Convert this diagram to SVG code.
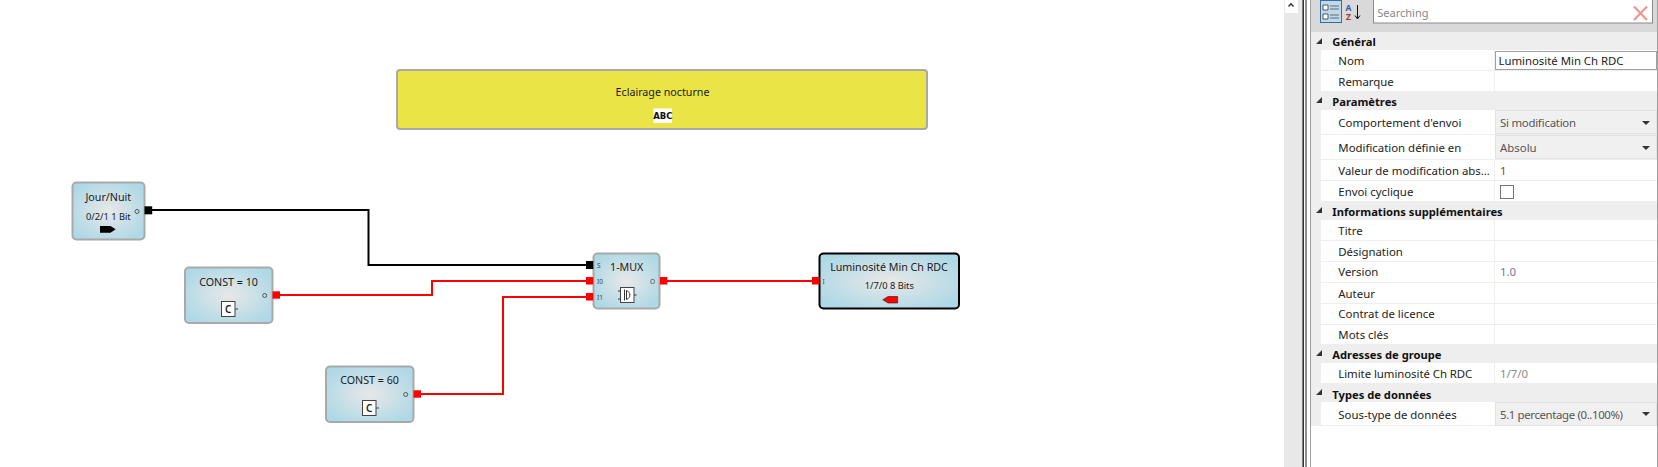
<svg xmlns="http://www.w3.org/2000/svg" width="1658" height="467" viewBox="0 0 1658 467">
<style>
text{font-family:"Noto Sans","Open Sans","Liberation Sans",sans-serif;fill:#1a1a1a}
.nb{fill:url(#nodeFill);stroke:#a9a9a9;stroke-width:2}
.sel{stroke:#000}
.t{font-size:10.7px;text-anchor:middle}
.s{font-size:9.3px;text-anchor:middle}
.p{font-size:6.5px;fill:#444}
.ci{fill:none;stroke:#555;stroke-width:1}
.ib{fill:#fff;stroke:#444;stroke-width:1}
.bl{fill:none;stroke:#000;stroke-width:2}
.rd{fill:none;stroke:#f00;stroke-width:2}
.pb{fill:#000}.pr{fill:#f00}
.l{font-size:11.4px;fill:#222}
.v{font-size:11.4px;fill:#222}
.g{font-size:11.4px;fill:#8a8a8a}
.d{font-size:11.4px;fill:#555}
.vb{font-size:11.4px;fill:#6d7a95}
.h{font-size:11.2px;font-weight:700;fill:#111}
.hr{fill:#eeeeee}
.r{fill:#fff}
.dd{fill:#f0f0f0;stroke:#e2e2e2}
.tri{fill:#333}
</style>
<defs>
<radialGradient id="nodeFill" cx="50%" cy="50%" r="60%"><stop offset="0" stop-color="#e8e8e8"/><stop offset="1" stop-color="#add8e6"/></radialGradient>
</defs>
<rect width="1658" height="467" fill="#fff"/>

<g id="connectors">
<path class="bl" d="M152 210H368.500V265H586"/>
<path class="rd" d="M280 295H432V281H586"/>
<path class="rd" d="M421 394H503V297H586"/>
<path class="rd" d="M667 281H812"/>
</g>

<g id="note">
<rect x="397" y="70" width="530" height="59" rx="3" fill="#eae446" stroke="#a9a9a9" stroke-width="2"/>
<text class="t" x="662.500" y="96">Eclairage nocturne</text>
<rect x="653.500" y="108.500" width="18.500" height="14.500" fill="#fff"/>
<text x="662.800" y="119" font-size="8.500" font-weight="700" text-anchor="middle" style="font-family:'DejaVu Sans',sans-serif;fill:#111">ABC</text>
</g>

<g id="jour-nuit">
<rect class="nb" x="72.500" y="182.500" width="72" height="57" rx="4"/>
<text class="t" x="108.300" y="201">Jour/Nuit</text>
<text class="s" x="108.300" y="219.500">0/2/1 1 Bit</text>
<circle class="ci" cx="137" cy="211.500" r="2"/>
<rect class="pb" x="144.500" y="206.300" width="7.700" height="8"/>
<path fill="#000" d="M100 226H110.500L115.700 229.300L110.500 232.700H100Z"/>
</g>

<g id="const-10">
<rect class="nb" x="185" y="267.500" width="87.500" height="55.500" rx="4"/>
<text class="t" x="228.500" y="286.200">CONST = 10</text>
<circle class="ci" cx="264.700" cy="295.500" r="2"/>
<rect class="pr" x="272.500" y="291.300" width="7.500" height="7.400"/>
<rect class="ib" x="221.500" y="301.500" width="13.500" height="15"/>
<path stroke="#444" d="M235 309H238"/>
<text x="228.200" y="313" font-size="10" text-anchor="middle" style="font-weight:600">C</text>
</g>

<g id="const-60">
<rect class="nb" x="326" y="366.500" width="87.500" height="55.500" rx="4"/>
<text class="t" x="369.500" y="384.300">CONST = 60</text>
<circle class="ci" cx="405.700" cy="394.500" r="2"/>
<rect class="pr" x="413.500" y="390.300" width="7.500" height="7.400"/>
<rect class="ib" x="362.500" y="400.500" width="13.500" height="15"/>
<path stroke="#444" d="M376 408H379"/>
<text x="369.200" y="412" font-size="10" text-anchor="middle" style="font-weight:600">C</text>
</g>

<g id="mux">
<rect class="nb" x="593.500" y="253.500" width="66" height="55" rx="4"/>
<text class="t" x="626.700" y="271">1-MUX</text>
<text class="p" x="597" y="267.500">S</text>
<text class="p" x="597" y="283.500">I0</text>
<text class="p" x="597" y="299.500">I1</text>
<text class="p" x="650" y="283.500">O</text>
<rect class="pb" x="586" y="261" width="7.300" height="8"/>
<rect class="pr" x="586" y="277" width="7.300" height="7.500"/>
<rect class="pr" x="586" y="293" width="7.300" height="7.500"/>
<rect class="pr" x="660" y="277" width="7.300" height="7.500"/>
<rect class="ib" x="620.500" y="287.500" width="13.500" height="15"/>
<path fill="none" stroke="#333" d="M618 291H620.500M618 299H620.500M634 295H636.500M624.500 289.500V300.500M626.500 290.500C631 292 631 298 626.500 299.500Z"/>
</g>

<g id="luminosite">
<rect class="nb sel" x="819.500" y="253.500" width="139.500" height="55" rx="4"/>
<text class="t" x="889" y="271">Luminosité Min Ch RDC</text>
<text class="s" x="889.300" y="289">1/7/0 8 Bits</text>
<text class="p" x="822.500" y="283.500">I</text>
<rect class="pr" x="812" y="277" width="7.500" height="7.500"/>
<path fill="#f00" stroke="#222" stroke-width=".6" d="M897.700 296.500H888L882.800 299.800L888 303H897.700Z"/>
</g>

<g id="scrollbar">
<rect x="1284" y="0" width="18" height="467" fill="#e8e8e8"/>
<rect x="1285" y="0" width="13" height="13" fill="#fff"/>
<path fill="none" stroke="#333" stroke-width="1.500" d="M1288.500 6.500L1291 3.800L1293.500 6.500"/>
<rect x="1302.500" y="0" width="1.300" height="467" fill="#000"/>
<rect x="1305" y="0" width="2" height="467" fill="#8f8f8f"/>
<rect x="1310" y="0" width="1" height="467" fill="#a0a0a0"/>
<rect x="1657" y="0" width="1" height="467" fill="#a0a0a0"/>
</g>

<g id="toolbar">
<rect x="1311" y="0" width="346" height="32" fill="#d9d9d9"/>
<rect x="1320.500" y="0.500" width="21" height="22" fill="#bcd9ee" stroke="#3f6d90"/>
<path fill="#fff" stroke="#333" stroke-width=".8" d="M1323 5h5v5h-5zM1323 14h5v5h-5z"/>
<path stroke="#6a6a6a" d="M1330 6h9M1330 9h9M1330 15h9M1330 18h9"/>
<text x="1348.500" y="11" font-size="8.500" font-weight="700" text-anchor="middle" style="fill:#2b5fb0">A</text>
<text x="1348.500" y="20" font-size="8.500" font-weight="700" text-anchor="middle" style="fill:#a33">Z</text>
<path fill="none" stroke="#111" d="M1357.500 5V18M1355 15.500L1357.500 19L1360 15.500"/>
<rect x="1373.500" y="-1" width="279" height="24" fill="#fff" stroke="#8a8a8a"/>
<text x="1377.300" y="17" font-size="11" style="fill:#888">Searching</text>
<path stroke="#e89a92" stroke-width="2.200" d="M1634 6.500L1647 20M1647 6.500L1634 20"/>
</g>

<g id="properties">
<rect class="hr" x="1311" y="32" width="346" height="394"/>
<rect class="r" x="1321" y="50" width="336" height="20"/>
<rect class="r" x="1321" y="71" width="336" height="20"/>
<rect class="r" x="1321" y="110" width="336" height="24"/>
<rect class="r" x="1321" y="135" width="336" height="24"/>
<rect class="r" x="1321" y="160" width="336" height="20"/>
<rect class="r" x="1321" y="181" width="336" height="20"/>
<rect class="r" x="1321" y="220" width="336" height="20"/>
<rect class="r" x="1321" y="241" width="336" height="20"/>
<rect class="r" x="1321" y="262" width="336" height="20"/>
<rect class="r" x="1321" y="283" width="336" height="20"/>
<rect class="r" x="1321" y="304" width="336" height="20"/>
<rect class="r" x="1321" y="325" width="336" height="19"/>
<rect class="r" x="1321" y="363" width="336" height="20"/>
<rect class="r" x="1321" y="402" width="336" height="23"/>
<path stroke="#eeeeee" d="M1494.500 50V91M1494.500 160V201M1494.500 220V344M1494.500 363V383"/>

<rect x="1495.500" y="51.500" width="161" height="18" fill="#fff" stroke="#a0a0a0"/>
<rect class="dd" x="1495.500" y="110.500" width="161" height="23"/>
<rect class="dd" x="1495.500" y="135.500" width="161" height="23"/>
<rect class="dd" x="1495.500" y="402.500" width="161" height="23"/>
<rect x="1500.500" y="185.500" width="13" height="13" fill="#fff" stroke="#777"/>

<path class="tri" d="M1322 38V44H1316ZM1322 97V103H1316ZM1322 207V213H1316ZM1322 350V356H1316ZM1322 389V395H1316Z"/>
<path class="tri" d="M1642 121H1650L1646 125ZM1642 146H1650L1646 150ZM1642 412H1650L1646 416Z"/>

<text class="h" x="1332.300" y="46">Général</text>
<text class="l" x="1338.300" y="65">Nom</text>
<text class="l" x="1338.300" y="86">Remarque</text>
<text class="h" x="1332.300" y="106">Paramètres</text>
<text class="l" x="1338.300" y="127">Comportement d'envoi</text>
<text class="l" x="1338.300" y="152">Modification définie en</text>
<text class="l" x="1338.300" y="175">Valeur de modification abs...</text>
<text class="l" x="1338.300" y="196">Envoi cyclique</text>
<text class="h" x="1332.300" y="216">Informations supplémentaires</text>
<text class="l" x="1338.300" y="235">Titre</text>
<text class="l" x="1338.300" y="256">Désignation</text>
<text class="l" x="1338.300" y="276">Version</text>
<text class="l" x="1338.300" y="298">Auteur</text>
<text class="l" x="1338.300" y="318">Contrat de licence</text>
<text class="l" x="1338.300" y="339">Mots clés</text>
<text class="h" x="1332.300" y="359">Adresses de groupe</text>
<text class="l" x="1338.300" y="378" textLength="134">Limite luminosité Ch RDC</text>
<text class="h" x="1332.300" y="398.500">Types de données</text>
<text class="l" x="1338.300" y="419">Sous-type de données</text>

<text class="v" x="1498.500" y="65" textLength="125">Luminosité Min Ch RDC</text>
<text class="d" x="1500" y="127" textLength="76">Si modification</text>
<text class="d" x="1500" y="152">Absolu</text>
<text class="v" x="1500" y="175" style="fill:#8a4a10">1</text>
<text class="vb" x="1500" y="276">1.0</text>
<text class="g" x="1500" y="378">1/7/0</text>
<text class="d" x="1500" y="419" textLength="123">5.1 percentage (0..100%)</text>
</g>
</svg>
